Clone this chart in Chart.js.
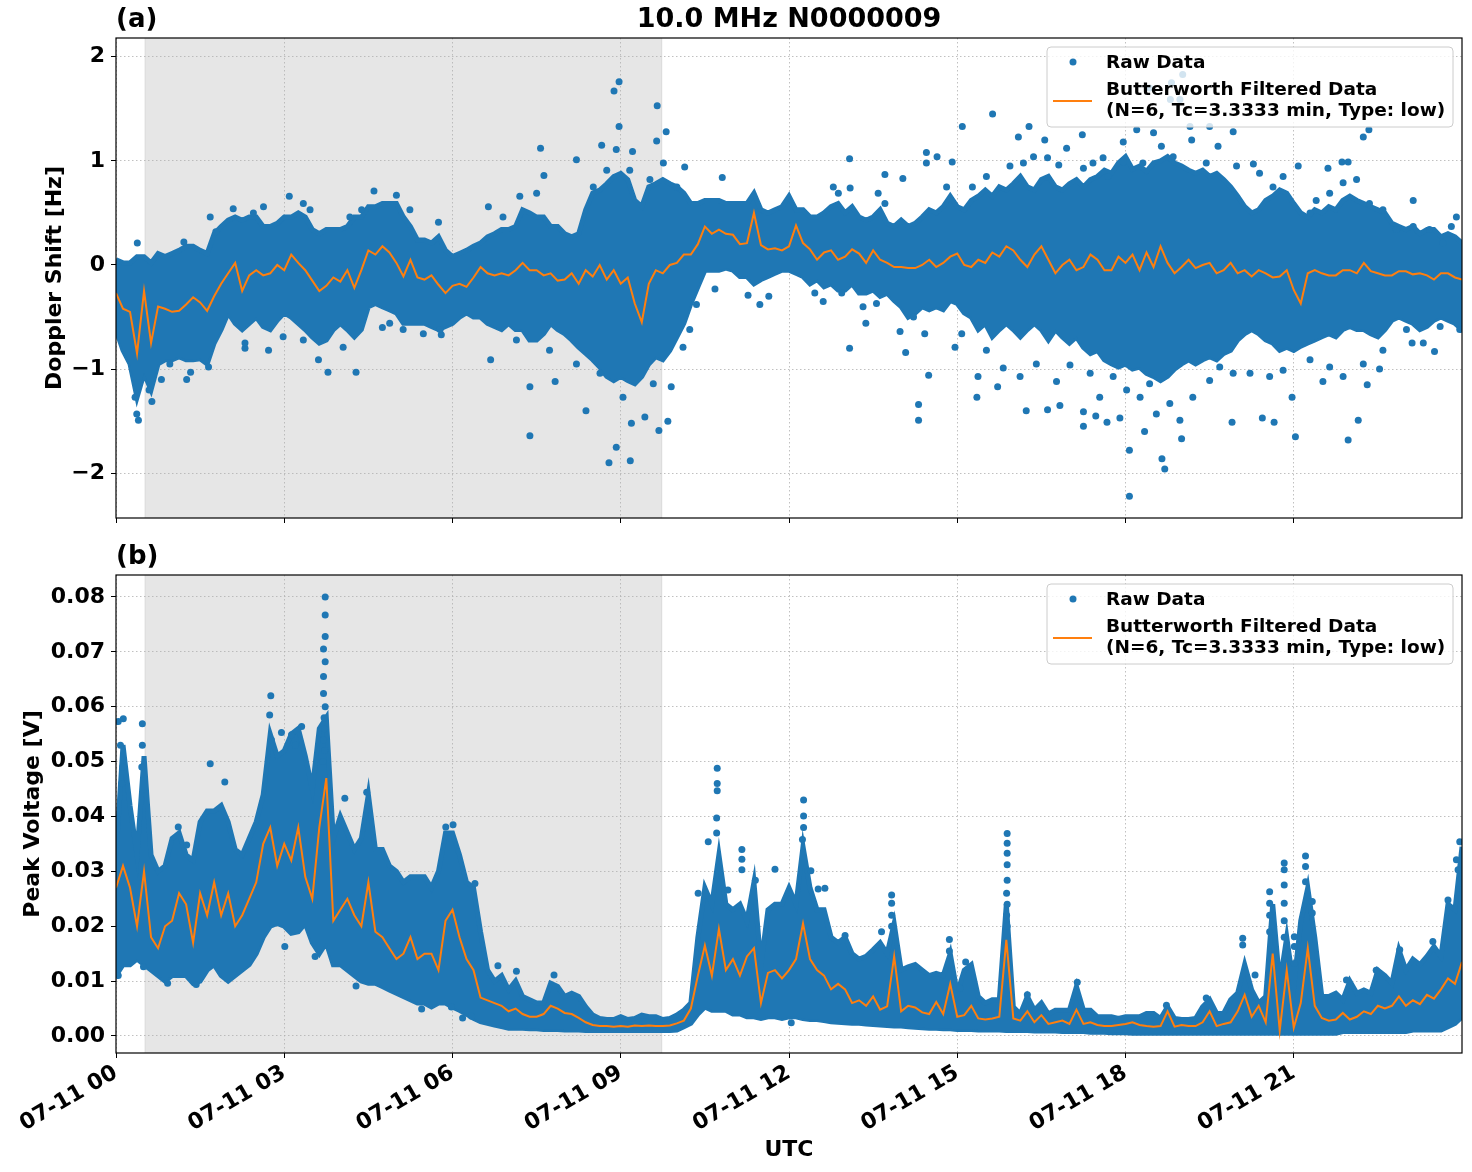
<!DOCTYPE html>
<html>
<head>
<meta charset="utf-8">
<script src="https://cdn.jsdelivr.net/npm/chart.js@4.4.1/dist/chart.umd.min.js"></script>
<style>
  body { margin: 0; background: #fff; }
  canvas { position: absolute; left: 0; }
</style>
</head>
<body>
<canvas id="doppler" width="1472" height="540" style="top:0px"></canvas>
<canvas id="voltage" width="1472" height="632" style="top:540px"></canvas>
<script>
// x axis: hours since 07-11 00 UTC
const hourTicks = [0, 3, 6, 9, 12, 15, 18, 21];
const hourLabels = ['07-11 00', '07-11 03', '07-11 06', '07-11 09', '07-11 12', '07-11 15', '07-11 18', '07-11 21'];
const nightSpan = [0.52, 9.73];

const step = 0.125;  // hours between samples of envelope and filtered curve

// panel (a) Doppler shift [Hz]
const dopplerTicks = [-2, -1, 0, 1, 2];
// upper / lower edge of the dense raw-data cloud
const dopplerHi = [0.05, 0.02, 0.02, 0.08, 0.08, 0.02, 0.11, 0.08, 0.11, 0.14, 0.18, 0.18, 0.14, 0.11, 0.30, 0.37,
  0.43, 0.46, 0.43, 0.46, 0.46, 0.37, 0.37, 0.40, 0.46, 0.46, 0.50, 0.46, 0.34, 0.30, 0.34, 0.34,
  0.34, 0.37, 0.46, 0.46, 0.56, 0.56, 0.59, 0.59, 0.59, 0.46, 0.37, 0.24, 0.24, 0.21, 0.27, 0.14, 0.08,
  0.11, 0.14, 0.18, 0.21, 0.27, 0.30, 0.34, 0.34, 0.37, 0.53, 0.50, 0.46, 0.46, 0.37, 0.37, 0.30,
  0.27, 0.30, 0.53, 0.69, 0.72, 0.78, 0.85, 0.88, 0.82, 0.62, 0.56, 0.75, 0.78, 0.82, 0.78, 0.75,
  0.69, 0.59, 0.59, 0.62, 0.62, 0.62, 0.59, 0.59, 0.59, 0.59, 0.69, 0.53, 0.50, 0.53, 0.56, 0.66,
  0.53, 0.53, 0.46, 0.46, 0.50, 0.56, 0.59, 0.50, 0.56, 0.46, 0.43, 0.46, 0.53, 0.40, 0.37, 0.43,
  0.37, 0.40, 0.46, 0.53, 0.50, 0.56, 0.66, 0.56, 0.53, 0.62, 0.66, 0.72, 0.66, 0.75, 0.72, 0.78,
  0.85, 0.75, 0.72, 0.82, 0.85, 0.75, 0.72, 0.78, 0.82, 0.75, 0.82, 0.85, 0.91, 0.88, 0.98, 1.04,
  0.92, 0.95, 0.90, 0.98, 1.0, 1.04, 0.98, 0.95, 0.91, 0.88, 0.91, 0.85, 0.88, 0.82, 0.75, 0.66,
  0.56, 0.50, 0.53, 0.62, 0.66, 0.72, 0.69, 0.59, 0.50, 0.46, 0.53, 0.50, 0.56, 0.53, 0.62, 0.66,
  0.62, 0.59, 0.56, 0.53, 0.50, 0.40, 0.37, 0.34, 0.37, 0.30, 0.34, 0.34, 0.27, 0.30, 0.27, 0.21];
const dopplerLo = [-0.62, -0.82, -0.95, -1.27, -1.04, -1.2, -0.95, -0.91, -0.91, -0.88, -0.91, -0.91, -0.9, -0.95, -0.75, -0.62,
  -0.46, -0.56, -0.62, -0.56, -0.5, -0.59, -0.62, -0.53, -0.46, -0.5, -0.56, -0.62, -0.69, -0.75, -0.72, -0.62,
  -0.56, -0.62, -0.69, -0.62, -0.4, -0.37, -0.4, -0.43, -0.46, -0.56, -0.56, -0.56, -0.56, -0.59, -0.62, -0.59, -0.56,
  -0.5, -0.46, -0.5, -0.5, -0.56, -0.59, -0.62, -0.56, -0.62, -0.62, -0.72, -0.72, -0.66, -0.56, -0.62, -0.66,
  -0.72, -0.79, -0.85, -0.91, -0.98, -1.07, -1.11, -1.07, -1.11, -1.14, -1.07, -0.95, -0.88, -0.91, -0.82, -0.69,
  -0.56, -0.37, -0.21, -0.05, -0.05, -0.05, -0.03, -0.05, -0.11, -0.11, -0.18, -0.14, -0.11, -0.08, -0.05, -0.05,
  -0.08, -0.11, -0.18, -0.14, -0.21, -0.18, -0.24, -0.24, -0.18, -0.27, -0.27, -0.24, -0.30, -0.27, -0.34, -0.40,
  -0.50, -0.46, -0.40, -0.43, -0.40, -0.43, -0.34, -0.37, -0.46, -0.50, -0.62, -0.56, -0.69, -0.62, -0.56, -0.62,
  -0.69, -0.62, -0.56, -0.62, -0.72, -0.62, -0.69, -0.75, -0.69, -0.79, -0.85, -0.82, -0.91, -0.95, -0.98, -0.95,
  -1.0, -0.98, -1.04, -1.07, -1.11, -1.07, -1.0, -0.95, -0.91, -0.95, -0.91, -0.88, -0.91, -0.85, -0.82, -0.72,
  -0.66, -0.62, -0.66, -0.72, -0.75, -0.82, -0.79, -0.82, -0.78, -0.75, -0.72, -0.69, -0.66, -0.69, -0.62, -0.59,
  -0.62, -0.62, -0.66, -0.69, -0.62, -0.53, -0.50, -0.53, -0.56, -0.62, -0.59, -0.53, -0.50, -0.53, -0.56, -0.62];
const dopplerFilt = [-0.27, -0.42, -0.45, -0.85, -0.25, -0.75, -0.40, -0.42, -0.45, -0.44, -0.38, -0.31, -0.36, -0.44, -0.30, -0.18,
  -0.08, 0.02, -0.25, -0.10, -0.05, -0.10, -0.08, 0.00, -0.05, 0.10, 0.02, -0.05, -0.15, -0.25, -0.20, -0.12,
  -0.16, -0.05, -0.22, -0.05, 0.14, 0.10, 0.18, 0.12, 0.02, -0.11, 0.05, -0.12, -0.14, -0.10, -0.19, -0.27, -0.20,
  -0.18, -0.21, -0.12, -0.02, -0.08, -0.10, -0.08, -0.10, -0.05, 0.02, -0.05, -0.05, -0.10, -0.08, -0.15, -0.14,
  -0.08, -0.18, -0.05, -0.11, 0.00, -0.14, -0.05, -0.18, -0.12, -0.37, -0.55, -0.18, -0.05, -0.08, 0.00, 0.02,
  0.10, 0.10, 0.20, 0.37, 0.30, 0.34, 0.30, 0.29, 0.20, 0.21, 0.50, 0.19, 0.15, 0.16, 0.14, 0.18,
  0.38, 0.21, 0.15, 0.05, 0.12, 0.14, 0.05, 0.08, 0.15, 0.11, 0.02, 0.14, 0.05, 0.02, -0.02, -0.02,
  -0.03, -0.03, 0.00, 0.05, -0.02, 0.02, 0.08, 0.11, 0.00, -0.02, 0.05, 0.02, 0.12, 0.08, 0.18, 0.14,
  0.05, -0.02, 0.10, 0.18, 0.05, -0.08, 0.00, 0.05, -0.05, -0.02, 0.10, 0.05, -0.05, -0.05, 0.08, 0.02,
  0.10, -0.05, 0.12, -0.02, 0.18, 0.02, -0.08, -0.02, 0.05, -0.03, 0.00, 0.02, -0.08, -0.05, 0.02, -0.08,
  -0.05, -0.11, -0.05, -0.08, -0.12, -0.11, -0.05, -0.24, -0.37, -0.08, -0.05, -0.08, -0.10, -0.10, -0.05, -0.05,
  -0.08, 0.02, -0.06, -0.08, -0.10, -0.10, -0.06, -0.06, -0.09, -0.08, -0.10, -0.14, -0.08, -0.08, -0.12, -0.14];
// scattered raw points outside the dense band: [hour, Hz]
const dopplerOut = [
  [0.40, -1.49], [0.37, -1.43], [0.34, -1.27], [0.64, -1.31], [0.59, -1.2], [0.81, -1.1], [1.26, -1.1], [1.33, -1.03],
  [0.38, 0.21], [2.09, 0.54], [1.78, 0.32], [2.45, 0.5], [3.09, 0.66], [3.34, 0.59], [4.6, 0.71], [5.0, 0.67], [4.38, 0.53], [5.75, 0.41],
  [3.78, -1.03], [4.28, -1.03], [3.61, -0.91], [2.72, -0.82], [2.30, -0.8], [2.98, -0.69], [4.75, -0.6], [5.12, -0.62], [5.48, -0.66], [5.8, -0.67],
  [1.21, 0.22], [1.68, 0.46], [2.63, 0.56], [3.46, 0.53], [4.17, 0.46], [5.24, 0.53],
  [0.96, -0.95], [1.65, -0.98], [2.3, -0.75], [3.34, -0.72], [4.05, -0.79], [4.88, -0.56], [5.78, -0.62],
  [8.97, 1.76], [8.88, 1.67], [9.65, 1.53], [8.97, 1.33], [9.81, 1.28], [9.64, 1.19], [8.66, 1.15], [7.57, 1.12], [7.63, 0.86],
  [8.21, 1.01], [9.21, 1.09], [8.92, 1.11], [10.14, 0.94], [10.81, 0.84], [6.64, 0.56],
  [8.51, 0.75], [8.75, 0.91], [9.16, 0.91], [9.52, 0.82], [9.76, 0.98], [10.0, 0.75], [7.5, 0.69], [7.2, 0.66], [6.9, 0.46],
  [7.38, -1.64], [8.79, -1.90], [9.17, -1.88], [8.92, -1.75], [9.84, -1.5], [9.68, -1.59], [8.38, -1.4], [7.38, -1.17],
  [6.68, -0.91], [7.83, -1.12], [9.19, -1.52], [9.43, -1.46], [9.9, -1.17], [10.35, -0.38], [10.68, -0.23], [11.48, -0.38], [11.27, -0.29], [11.64, -0.3],
  [8.63, -1.04], [9.04, -1.27], [9.58, -1.14], [8.21, -0.95], [7.73, -0.82], [7.14, -0.72], [10.11, -0.79], [10.23, -0.62],
  [13.08, 1.02], [15.09, 1.33], [15.63, 1.45], [14.45, 1.08], [14.64, 1.04], [13.71, 0.87], [16.09, 1.23], [16.28, 1.33], [16.56, 1.2],
  [17.23, 1.25], [17.96, 1.18],
  [12.79, 0.75], [12.88, 0.69], [13.09, 0.74], [13.59, 0.69], [13.71, 0.59], [14.03, 0.83], [14.45, 0.98], [14.81, 0.75], [14.91, 0.99],
  [15.27, 0.75], [15.52, 0.85], [15.94, 0.95], [16.18, 0.98], [16.36, 1.04], [16.61, 1.03], [16.81, 0.96], [16.95, 1.12], [17.25, 0.93],
  [17.42, 0.98], [17.6, 1.03], [17.69, 0.85], [17.96, 0.99],
  [13.08, -0.8], [14.31, -1.49], [14.31, -1.34], [14.49, -1.06], [15.35, -1.27], [15.72, -1.17], [16.23, -1.4], [16.61, -1.39],
  [16.83, -1.35], [17.25, -1.55], [17.25, -1.41], [17.47, -1.45], [17.67, -1.51], [18.07, -2.22], [18.07, -1.78], [17.9, -1.47],
  [14.08, -0.84], [13.37, -0.56], [12.61, -0.35],
  [12.46, -0.27], [12.94, -0.27], [13.32, -0.4], [13.56, -0.37], [13.98, -0.64], [14.22, -0.5], [14.42, -0.66], [14.96, -0.79],
  [15.08, -0.66], [15.37, -1.07], [15.52, -0.82], [15.82, -0.99], [16.12, -1.07], [16.41, -0.95], [16.77, -1.12], [17.01, -0.96],
  [17.37, -1.04], [17.54, -1.27], [17.78, -1.07], [18.02, -1.2],
  [18.65, -1.86], [18.7, -1.96], [19.0, -1.67], [18.34, -1.6], [19.9, -1.51], [20.44, -1.47], [20.65, -1.51], [21.03, -1.65],
  [20.97, -1.27], [21.97, -1.68], [22.15, -1.49], [22.31, -1.15], [22.53, -1.0], [21.52, -1.12], [23.11, -0.75], [23.51, -0.83],
  [22.24, 1.23], [22.34, 1.3], [21.08, 0.95], [21.61, 0.93], [21.86, 0.99], [21.97, 0.99], [23.13, 0.62], [23.9, 0.46], [20.28, 0.97], [20.39, 0.88],
  [18.82, 1.75], [18.97, 1.59], [19.15, 1.33], [18.2, 1.3], [18.5, 1.27], [19.5, 1.33], [19.92, 1.28], [19.02, 1.83], [18.43, 1.70], [18.8, 1.59],
  [18.31, 0.98], [18.64, 1.14], [18.85, 1.04], [19.18, 1.2], [19.44, 0.98], [19.65, 1.14], [19.98, 0.95], [20.63, 0.75], [20.81, 0.85],
  [21.29, 0.5], [21.4, 0.62], [21.64, 0.69], [21.88, 0.79], [22.12, 0.82], [22.35, 0.59], [22.59, 0.53], [22.83, 0.34], [23.13, 0.37],
  [23.42, 0.34], [23.66, 0.21], [23.81, 0.37],
  [18.26, -1.27], [18.43, -1.14], [18.55, -1.43], [18.79, -1.33], [18.97, -1.49], [19.2, -1.27], [19.5, -1.11], [19.68, -0.98],
  [19.92, -1.04], [20.22, -1.04], [20.57, -1.07], [20.81, -1.01], [21.29, -0.91], [21.64, -0.98], [21.88, -1.07], [22.24, -0.95],
  [22.59, -0.82], [23.01, -0.62], [23.31, -0.75], [23.61, -0.59], [23.96, -0.62]
];

// panel (b) peak voltage [V]
const voltTicks = [0, 0.01, 0.02, 0.03, 0.04, 0.05, 0.06, 0.07, 0.08];
const voltHi = [0.033, 0.053, 0.042, 0.033, 0.051, 0.033, 0.030, 0.031, 0.036, 0.037, 0.033, 0.032, 0.039, 0.041, 0.041, 0.042,
  0.039, 0.034, 0.033, 0.036, 0.039, 0.044, 0.055, 0.051, 0.052, 0.055, 0.056, 0.051, 0.045, 0.056, 0.058, 0.036,
  0.040, 0.037, 0.034, 0.036, 0.044, 0.034, 0.034, 0.031, 0.030, 0.028, 0.029, 0.029, 0.029, 0.027, 0.030, 0.037, 0.037,
  0.033, 0.028, 0.027, 0.019, 0.012, 0.010, 0.011, 0.0084, 0.010, 0.0072, 0.0066, 0.006, 0.006, 0.0096, 0.009, 0.0072,
  0.0078, 0.0072, 0.0053, 0.0038, 0.0032, 0.003, 0.003, 0.0035, 0.003, 0.0032, 0.0038, 0.0035, 0.0035, 0.003, 0.0032, 0.0038,
  0.0047, 0.006, 0.018, 0.027, 0.024, 0.033, 0.024, 0.023, 0.024, 0.021, 0.028, 0.013, 0.023, 0.024, 0.024, 0.027,
  0.024, 0.0345, 0.027, 0.023, 0.023, 0.018, 0.017, 0.018, 0.015, 0.014, 0.0145, 0.0157, 0.017, 0.015, 0.0205, 0.012,
  0.0126, 0.013, 0.012, 0.011, 0.0114, 0.011, 0.015, 0.0078, 0.012, 0.013, 0.0072, 0.006, 0.0066, 0.0066, 0.024, 0.0053,
  0.004, 0.0072, 0.0047, 0.006, 0.004, 0.0047, 0.0047, 0.0047, 0.009, 0.0047, 0.0047, 0.0035, 0.0035, 0.0035, 0.0032, 0.0035,
  0.0035, 0.0035, 0.0041, 0.0041, 0.0032, 0.0053, 0.0032, 0.003, 0.003, 0.0032, 0.0053, 0.0066, 0.0041, 0.0041, 0.0066, 0.0078,
  0.013, 0.0084, 0.006, 0.0072, 0.024, 0.0096, 0.018, 0.009, 0.021, 0.027, 0.018, 0.0072, 0.0072, 0.0078, 0.0066, 0.010,
  0.0078, 0.0084, 0.0078, 0.012, 0.011, 0.0096, 0.0157, 0.012, 0.014, 0.013, 0.0145, 0.0163, 0.0145, 0.024, 0.023, 0.0345];
const voltLo = [0.011, 0.013, 0.013, 0.014, 0.013, 0.012, 0.011, 0.010, 0.011, 0.011, 0.011, 0.0096, 0.010, 0.012, 0.013, 0.011,
  0.010, 0.011, 0.012, 0.013, 0.015, 0.018, 0.020, 0.0205, 0.020, 0.0187, 0.019, 0.0205, 0.017, 0.015, 0.017, 0.013,
  0.013, 0.012, 0.011, 0.010, 0.0096, 0.0096, 0.009, 0.0084, 0.0078, 0.0072, 0.0066, 0.006, 0.006, 0.0053, 0.006, 0.006, 0.0053,
  0.0047, 0.004, 0.0032, 0.0026, 0.0023, 0.002, 0.0017, 0.0014, 0.0014, 0.0014, 0.0013, 0.0013, 0.0012, 0.0012, 0.0012, 0.0011,
  0.0011, 0.0011, 0.001, 0.001, 0.001, 0.001, 0.001, 0.001, 0.001, 0.001, 0.001, 0.001, 0.001, 0.001, 0.001, 0.0011,
  0.0017, 0.0023, 0.004, 0.0053, 0.0047, 0.0047, 0.0047, 0.004, 0.004, 0.0035, 0.0035, 0.0032, 0.0035, 0.0035, 0.0032, 0.0035,
  0.0035, 0.0032, 0.003, 0.003, 0.0028, 0.0026, 0.0025, 0.0024, 0.0023, 0.0023, 0.0022, 0.0021, 0.002, 0.0019, 0.0018, 0.0018,
  0.0017, 0.0016, 0.0015, 0.0014, 0.0014, 0.0013, 0.0013, 0.0012, 0.0012, 0.0012, 0.0011, 0.0011, 0.0011, 0.0011, 0.001, 0.001,
  0.001, 0.001, 0.0009, 0.0009, 0.0009, 0.0009, 0.0008, 0.0008, 0.0008, 0.0008, 0.0007, 0.0007, 0.0007, 0.0006, 0.0006, 0.0006,
  0.0005, 0.0005, 0.0005, 0.0005, 0.0005, 0.0005, 0.0005, 0.0005, 0.0005, 0.0005, 0.0005, 0.0005, 0.0005, 0.0005, 0.0005, 0.0005,
  0.0005, 0.0005, 0.0005, 0.0005, 0.0005, 0.0005, 0.0005, 0.0005, 0.0005, 0.0005, 0.0005, 0.0005, 0.0005, 0.0005, 0.0008, 0.0008,
  0.0008, 0.0008, 0.0008, 0.0008, 0.0008, 0.0008, 0.0008, 0.0008, 0.0011, 0.0011, 0.0011, 0.0011, 0.0011, 0.0017, 0.0023, 0.0035];
const voltFilt = [0.027, 0.031, 0.027, 0.020, 0.030, 0.018, 0.016, 0.020, 0.021, 0.026, 0.024, 0.017, 0.026, 0.022, 0.028, 0.022,
  0.026, 0.020, 0.022, 0.025, 0.028, 0.035, 0.038, 0.031, 0.035, 0.032, 0.038, 0.029, 0.025, 0.038, 0.047, 0.021,
  0.023, 0.025, 0.022, 0.020, 0.028, 0.019, 0.018, 0.016, 0.014, 0.015, 0.018, 0.014, 0.015, 0.015, 0.012, 0.021, 0.023,
  0.018, 0.014, 0.012, 0.007, 0.0065, 0.006, 0.0055, 0.0045, 0.005, 0.004, 0.0035, 0.0035, 0.004, 0.0055, 0.005, 0.0042,
  0.004, 0.0033, 0.0025, 0.002, 0.0018, 0.0018, 0.0017, 0.0018, 0.0017, 0.0019, 0.0018, 0.0019, 0.0018, 0.0018, 0.0019, 0.0023,
  0.0028, 0.005, 0.011, 0.0165, 0.011, 0.0195, 0.012, 0.014, 0.011, 0.0145, 0.016, 0.006, 0.0115, 0.012, 0.0105, 0.012,
  0.014, 0.0205, 0.014, 0.012, 0.011, 0.0085, 0.0095, 0.0085, 0.006, 0.0065, 0.0055, 0.0072, 0.0048, 0.0054, 0.0145, 0.0045,
  0.0055, 0.0052, 0.0043, 0.004, 0.0062, 0.004, 0.0095, 0.0035, 0.0038, 0.0055, 0.0032, 0.003, 0.0032, 0.0035, 0.0175, 0.0032,
  0.0028, 0.0045, 0.0025, 0.0038, 0.0022, 0.0025, 0.0028, 0.0022, 0.0048, 0.0022, 0.0025, 0.002, 0.0018, 0.0018, 0.002, 0.0022,
  0.0025, 0.002, 0.0018, 0.0017, 0.0018, 0.0045, 0.0017, 0.002, 0.0018, 0.0018, 0.0025, 0.0045, 0.0018, 0.0022, 0.0025, 0.0045,
  0.0075, 0.0035, 0.0055, 0.0025, 0.015, 0.001, 0.012, 0.0015, 0.006, 0.016, 0.0055, 0.0033, 0.0028, 0.003, 0.0042, 0.003,
  0.0035, 0.0045, 0.004, 0.0055, 0.005, 0.0055, 0.0072, 0.0055, 0.0065, 0.0058, 0.0075, 0.0068, 0.0085, 0.0105, 0.0095, 0.0135];
// scattered raw points outside the dense band: [hour, V]
const voltOut = [
  [3.73, 0.080], [3.73, 0.0767], [3.73, 0.0728], [3.70, 0.0705], [3.73, 0.0682], [3.70, 0.0655], [3.70, 0.0624], [3.73, 0.060],
  [3.71, 0.058], [3.72, 0.056], [3.70, 0.054], [3.72, 0.052], [3.69, 0.050],
  [2.76, 0.062], [2.74, 0.0585], [2.95, 0.0553], [3.13, 0.0549], [3.31, 0.0564], [2.77, 0.054], [3.20, 0.053],
  [0.04, 0.0573], [0.13, 0.0578], [0.47, 0.0569], [0.08, 0.053], [0.12, 0.049], [0.47, 0.053], [0.46, 0.049], [0.10, 0.046],
  [1.68, 0.0496], [1.94, 0.0463], [1.11, 0.0381], [1.26, 0.0348], [4.08, 0.0433], [4.47, 0.0444], [5.88, 0.0381], [6.01, 0.0385],
  [4.28, 0.0091], [3.55, 0.0145], [3.01, 0.0163], [0.04, 0.011], [0.49, 0.0126], [5.45, 0.0049], [5.98, 0.0053], [1.43, 0.0094], [0.92, 0.0096],
  [10.72, 0.0488], [10.72, 0.046], [10.72, 0.0447], [10.71, 0.0397], [10.71, 0.037], [10.56, 0.0354], [11.16, 0.034], [11.16, 0.0322],
  [11.16, 0.0303], [11.4, 0.0284], [11.75, 0.0304], [10.38, 0.026], [6.4, 0.0278], [6.81, 0.0128], [7.14, 0.0118], [7.81, 0.0111],
  [6.18, 0.0033], [6.34, 0.0036], [12.04, 0.0024], [10.91, 0.0266],
  [12.26, 0.043], [12.26, 0.0401], [12.26, 0.038], [12.24, 0.0358], [12.39, 0.0301], [12.52, 0.0268], [12.64, 0.0269],
  [13.83, 0.0257], [13.83, 0.0242], [13.83, 0.022], [13.83, 0.020], [13.65, 0.019], [13.0, 0.0183], [14.86, 0.0176], [14.86, 0.0155], [15.15, 0.0135],
  [15.89, 0.0369], [15.89, 0.0351], [15.89, 0.0333], [15.89, 0.0312], [15.89, 0.0284], [15.88, 0.026], [15.89, 0.024], [15.88, 0.022], [15.89, 0.020],
  [17.14, 0.0098], [16.25, 0.0075], [15.05, 0.0087],
  [20.09, 0.0178], [20.09, 0.0166], [20.31, 0.0111], [20.57, 0.0263], [20.57, 0.0242], [20.57, 0.022], [20.57, 0.019],
  [20.83, 0.0315], [20.83, 0.0303], [20.83, 0.0275], [20.83, 0.0242], [20.83, 0.021], [20.83, 0.018],
  [21.01, 0.0181], [21.01, 0.0163], [21.01, 0.0132], [21.21, 0.0328], [21.21, 0.0309], [21.21, 0.0281], [21.33, 0.0245], [21.33, 0.0224],
  [22.89, 0.0157], [23.48, 0.0172], [23.96, 0.0354], [23.9, 0.0321], [23.93, 0.0303], [23.75, 0.0248], [22.47, 0.012], [21.94, 0.0102],
  [18.73, 0.0056], [19.44, 0.0069]
];

const legendLabels = ['Raw Data', 'Butterworth Filtered Data', '(N=6, Tc=3.3333 min, Type: low)'];
const blue = '#1f77b4';
const orange = '#ff7f0e';
const fontFamily = "'DejaVu Sans', sans-serif";

const series = arr => arr.map((v, i) => ({x: i * step, y: v}));
const pairs = arr => arr.map(p => ({x: p[0], y: p[1]}));

// shading, frame, panel tag, title and legend
const panelDeco = {
  id: 'panelDeco',
  beforeDraw(chart) {
    const {ctx, chartArea: a, scales: {x}} = chart;
    const x1 = x.getPixelForValue(nightSpan[0]);
    const x2 = x.getPixelForValue(nightSpan[1]);
    ctx.save();
    ctx.fillStyle = '#e6e6e6';
    ctx.fillRect(x1, a.top, x2 - x1, a.bottom - a.top);
    ctx.strokeStyle = '#d9d9d9';
    ctx.lineWidth = 1;
    ctx.beginPath();
    ctx.moveTo(x1, a.top); ctx.lineTo(x1, a.bottom);
    ctx.moveTo(x2, a.top); ctx.lineTo(x2, a.bottom);
    ctx.stroke();
    ctx.restore();
  },
  afterDraw(chart, args, opts) {
    const {ctx, chartArea: a} = chart;
    ctx.save();
    ctx.strokeStyle = '#000';
    ctx.lineWidth = 1.2;
    ctx.strokeRect(a.left, a.top, a.right - a.left, a.bottom - a.top);

    ctx.fillStyle = '#000';
    ctx.font = 'bold 26px ' + fontFamily;
    ctx.textBaseline = 'middle';
    ctx.textAlign = 'left';
    ctx.fillText(opts.tag, a.left, a.top - 18);
    if (opts.title) {
      ctx.font = 'bold 27px ' + fontFamily;
      ctx.textAlign = 'center';
      ctx.fillText(opts.title, (a.left + a.right) / 2, a.top - 18);
    }

    // legend
    const lw = 406, lh = 80;
    const lx = a.right - 9 - lw, ly = a.top + 9;
    ctx.beginPath();
    ctx.roundRect(lx, ly, lw, lh, 4);
    ctx.fillStyle = 'rgba(255,255,255,0.8)';
    ctx.fill();
    ctx.strokeStyle = '#cccccc';
    ctx.lineWidth = 1;
    ctx.stroke();
    ctx.fillStyle = blue;
    ctx.beginPath();
    ctx.arc(lx + 26, ly + 15, 3.5, 0, Math.PI * 2);
    ctx.fill();
    ctx.strokeStyle = orange;
    ctx.lineWidth = 2;
    ctx.beginPath();
    ctx.moveTo(lx + 6, ly + 54);
    ctx.lineTo(lx + 45, ly + 54);
    ctx.stroke();
    ctx.fillStyle = '#000';
    ctx.font = 'bold 18.5px ' + fontFamily;
    ctx.textAlign = 'left';
    ctx.fillText(legendLabels[0], lx + 59, ly + 16);
    ctx.fillText(legendLabels[1], lx + 59, ly + 43);
    ctx.fillText(legendLabels[2], lx + 59, ly + 64);
    ctx.restore();
  }
};

function makePanel(id, cfg) {
  return new Chart(document.getElementById(id), {
    type: 'line',
    data: {
      datasets: [
        {data: series(cfg.filt), borderColor: orange, borderWidth: 2, pointRadius: 0, order: 0},
        {type: 'scatter', data: pairs(cfg.out), backgroundColor: blue, borderWidth: 0, pointRadius: 3.5, order: 1},
        {data: series(cfg.hi), borderColor: blue, backgroundColor: blue, borderWidth: 5,
         pointRadius: 0, fill: '+1', order: 2},
        {data: series(cfg.lo), borderColor: blue, borderWidth: 5, pointRadius: 0, order: 3}
      ]
    },
    options: {
      responsive: false,
      animation: false,
      devicePixelRatio: 1,
      events: [],
      layout: {padding: {top: cfg.padTop, right: 10, left: cfg.padLeft, bottom: 0}},
      plugins: {
        legend: {display: false},
        tooltip: {enabled: false},
        panelDeco: {tag: cfg.tag, title: cfg.title}
      },
      scales: {
        x: {
          type: 'linear', min: 0, max: 24,
          afterBuildTicks: s => { s.ticks = hourTicks.map(v => ({value: v})); },
          afterFit: s => { s.height = cfg.xHeight; },
          ticks: {
            display: cfg.showX, autoSkip: false, minRotation: 30, maxRotation: 30, padding: 2,
            color: '#000', font: {family: fontFamily, size: 22, weight: 'bold'},
            callback: v => hourLabels[hourTicks.indexOf(v)]
          },
          grid: {color: '#b0b0b0', lineWidth: 0.8, tickLength: 5, tickColor: '#000', tickWidth: 1},
          border: {display: false, dash: [1.5, 2.5]},
          title: {
            display: cfg.showX, text: 'UTC', color: '#000',
            font: {family: fontFamily, size: 22, weight: 'bold'}, padding: {top: 4, bottom: 9}
          }
        },
        y: {
          type: 'linear', min: cfg.yMin, max: cfg.yMax,
          afterBuildTicks: s => { s.ticks = cfg.yTicks.map(v => ({value: v})); },
          afterFit: s => { s.width = cfg.yWidth; },
          ticks: {
            padding: 6, color: '#000', font: {family: fontFamily, size: 22, weight: 'bold'},
            callback: cfg.yLabel
          },
          grid: {color: '#b0b0b0', lineWidth: 0.8, tickLength: 5, tickColor: '#000', tickWidth: 1},
          border: {display: false, dash: [1.5, 2.5]},
          title: {
            display: true, text: cfg.yTitle, color: '#000',
            font: {family: fontFamily, size: 22, weight: 'bold'}, padding: {top: 4, bottom: 4}
          }
        }
      }
    },
    plugins: [panelDeco]
  });
}

makePanel('doppler', {
  filt: dopplerFilt, out: dopplerOut, hi: dopplerHi, lo: dopplerLo,
  tag: '(a)', title: '10.0 MHz N0000009',
  padTop: 38, padLeft: 38, yWidth: 78, xHeight: 22, showX: false,
  yMin: -2.43, yMax: 2.18, yTicks: dopplerTicks, yTitle: 'Doppler Shift [Hz]',
  yLabel: v => (v < 0 ? '\u2212' + Math.abs(v) : String(v))
});

makePanel('voltage', {
  filt: voltFilt, out: voltOut, hi: voltHi, lo: voltLo,
  tag: '(b)', title: '',
  padTop: 35, padLeft: 16, yWidth: 100, xHeight: 119, showX: true,
  yMin: -0.0031, yMax: 0.084, yTicks: voltTicks, yTitle: 'Peak Voltage [V]',
  yLabel: v => v.toFixed(2)
});
</script>
</body>
</html>
